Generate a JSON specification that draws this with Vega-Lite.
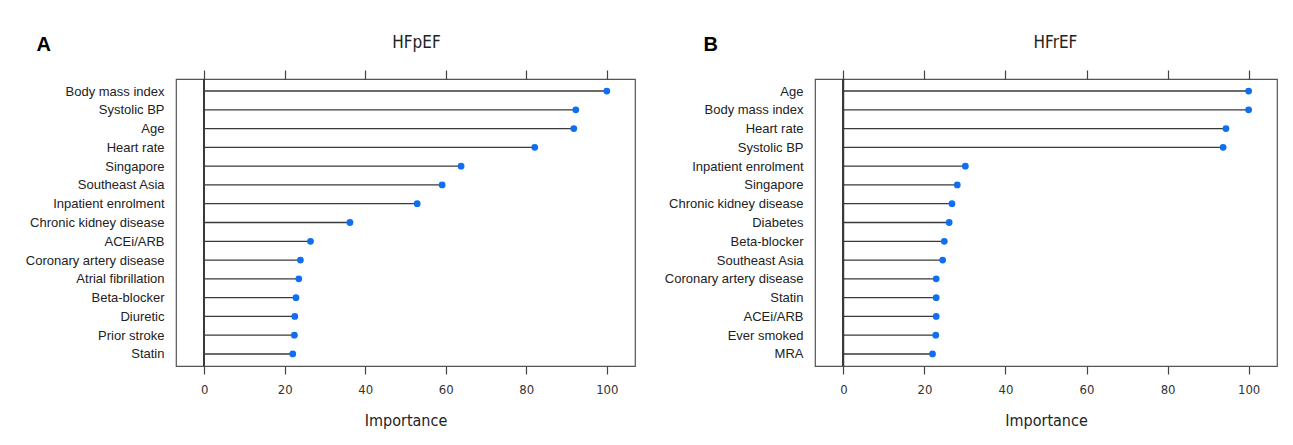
{
  "$schema": "https://vega.github.io/schema/vega-lite/v6.json",
  "background": "white",
  "padding": {"left": 24, "top": 32, "right": 0, "bottom": 0},
  "spacing": 27,
  "config": {
    "view": {"stroke": "#555", "strokeWidth": 1.2},
    "axis": {"grid": false, "domain": false, "labelFont": "DejaVu Sans Condensed, Roboto Condensed, Roboto", "titleFont": "DejaVu Sans Condensed, Roboto Condensed, Roboto", "labelColor": "#333", "titleColor": "#222", "titleFontWeight": "normal", "tickColor": "#444", "tickWidth": 1.2}
  },
  "hconcat": [
    {
      "width": 459,
      "height": 287,
      "data": {"values": [
        {"feature": "Body mass index", "importance": 100},
        {"feature": "Systolic BP", "importance": 92.3},
        {"feature": "Age", "importance": 91.8},
        {"feature": "Heart rate", "importance": 82.1},
        {"feature": "Singapore", "importance": 63.8},
        {"feature": "Southeast Asia", "importance": 59.1},
        {"feature": "Inpatient enrolment", "importance": 52.9},
        {"feature": "Chronic kidney disease", "importance": 36.2},
        {"feature": "ACEi/ARB", "importance": 26.4},
        {"feature": "Coronary artery disease", "importance": 23.9},
        {"feature": "Atrial fibrillation", "importance": 23.5},
        {"feature": "Beta-blocker", "importance": 22.8},
        {"feature": "Diuretic", "importance": 22.5},
        {"feature": "Prior stroke", "importance": 22.4},
        {"feature": "Statin", "importance": 22.0}
      ]},
      "layer": [
        {
          "mark": {"type": "rule", "color": "#3a3a3a", "strokeWidth": 1.3},
          "encoding": {
            "x": {"field": "importance", "type": "quantitative", "scale": {"domain": [-7, 107], "nice": false, "zero": false},
              "axis": {"orient": "bottom", "values": [0, 20, 40, 60, 80, 100], "tickSize": 8, "labelFontSize": 13, "labelPadding": 9, "title": "Importance", "titleFontSize": 16, "titlePadding": 16}},
            "x2": {"datum": 0},
            "y": {"field": "feature", "type": "nominal", "sort": null, "scale": {"type": "point", "padding": 0.64},
              "axis": {"title": "A", "titleAngle": 0, "titleX": -140, "titleY": -29, "titleAlign": "left", "titleBaseline": "alphabetic", "titleFont": "Liberation Sans", "titleFontSize": 20, "titleFontWeight": "bold", "titleColor": "#000", "ticks": false, "labelPadding": 12, "labelFont": "Liberation Sans", "labelFontSize": 13, "labelColor": "#222", "labelLimit": 300}}
          }
        },
        {
          "mark": {"type": "rule", "color": "#3a3a3a", "strokeWidth": 1.3},
          "encoding": {
            "x": {"datum": 0, "type": "quantitative",
              "axis": {"orient": "top", "values": [0, 20, 40, 60, 80, 100], "tickSize": 9, "labels": false, "title": "HFpEF", "titleFontSize": 17, "titlePadding": 18, "titleX": 240}}
          }
        },
        {
          "mark": {"type": "circle", "color": "#0f6ff0", "opacity": 1, "size": 46},
          "encoding": {
            "x": {"field": "importance", "type": "quantitative", "axis": null},
            "y": {"field": "feature", "type": "nominal", "sort": null}
          }
        }
      ],
      "resolve": {"axis": {"x": "independent"}}
    },
    {
      "width": 462,
      "height": 287,
      "data": {"values": [
        {"feature": "Age", "importance": 100},
        {"feature": "Body mass index", "importance": 100},
        {"feature": "Heart rate", "importance": 94.4},
        {"feature": "Systolic BP", "importance": 93.7},
        {"feature": "Inpatient enrolment", "importance": 30.1},
        {"feature": "Singapore", "importance": 28.1},
        {"feature": "Chronic kidney disease", "importance": 26.8},
        {"feature": "Diabetes", "importance": 26.1},
        {"feature": "Beta-blocker", "importance": 24.9},
        {"feature": "Southeast Asia", "importance": 24.5},
        {"feature": "Coronary artery disease", "importance": 22.9},
        {"feature": "Statin", "importance": 22.9},
        {"feature": "ACEi/ARB", "importance": 22.9},
        {"feature": "Ever smoked", "importance": 22.8},
        {"feature": "MRA", "importance": 22.0}
      ]},
      "layer": [
        {
          "mark": {"type": "rule", "color": "#3a3a3a", "strokeWidth": 1.3},
          "encoding": {
            "x": {"field": "importance", "type": "quantitative", "scale": {"domain": [-7, 107], "nice": false, "zero": false},
              "axis": {"orient": "bottom", "values": [0, 20, 40, 60, 80, 100], "tickSize": 8, "labelFontSize": 13, "labelPadding": 9, "title": "Importance", "titleFontSize": 16, "titlePadding": 16}},
            "x2": {"datum": 0},
            "y": {"field": "feature", "type": "nominal", "sort": null, "scale": {"type": "point", "padding": 0.64},
              "axis": {"title": "B", "titleAngle": 0, "titleX": -112, "titleY": -29, "titleAlign": "left", "titleBaseline": "alphabetic", "titleFont": "Liberation Sans", "titleFontSize": 20, "titleFontWeight": "bold", "titleColor": "#000", "ticks": false, "labelPadding": 12, "labelFont": "Liberation Sans", "labelFontSize": 13, "labelColor": "#222", "labelLimit": 300}}
          }
        },
        {
          "mark": {"type": "rule", "color": "#3a3a3a", "strokeWidth": 1.3},
          "encoding": {
            "x": {"datum": 0, "type": "quantitative",
              "axis": {"orient": "top", "values": [0, 20, 40, 60, 80, 100], "tickSize": 9, "labels": false, "title": "HFrEF", "titleFontSize": 17, "titlePadding": 18, "titleX": 240}}
          }
        },
        {
          "mark": {"type": "circle", "color": "#0f6ff0", "opacity": 1, "size": 46},
          "encoding": {
            "x": {"field": "importance", "type": "quantitative", "axis": null},
            "y": {"field": "feature", "type": "nominal", "sort": null}
          }
        }
      ],
      "resolve": {"axis": {"x": "independent"}}
    }
  ]
}
